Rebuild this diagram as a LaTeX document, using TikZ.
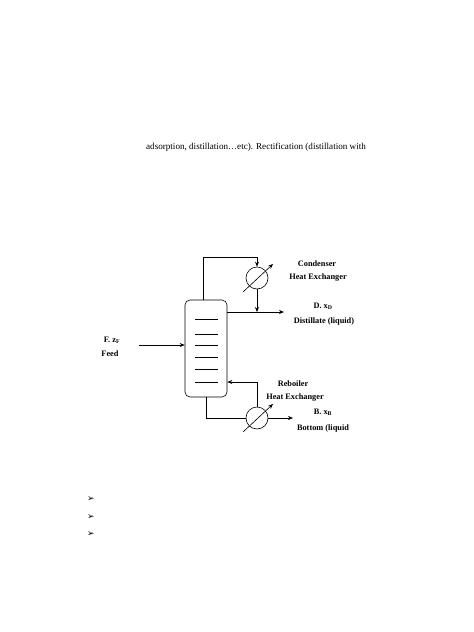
\documentclass[tikz,border=0pt]{standalone}
\usepackage{fontspec}
\setmainfont{Liberation Serif}
\newfontfamily\symf{DejaVu Sans}
\usetikzlibrary{arrows.meta,calc}
\begin{document}
\begin{tikzpicture}[x=1pt,y=-1pt,
  ln/.style={line width=0.6pt},
  ar/.style={ln,-{Stealth[length=5pt,width=4pt]}},
  lbl/.style={font=\bfseries\fontsize{8.3}{9}\selectfont,inner sep=0pt},
  hx/.style={circle,draw,line width=0.6pt,minimum size=22pt,inner sep=0pt}]
\useasboundingbox (0,0) rectangle (474,632);
\node[font=\fontsize{9.1}{10}\selectfont,anchor=west,inner sep=0pt] (txt) at (146,147) {adsorption, distillation…etc). Rectification (distillation with};
\node[draw,ln,rounded corners=5pt,minimum width=42pt,minimum height=97pt,inner sep=0pt] (col) at (206,348.5) {};
\foreach \y/\n in {319/a,334/b,345/c,357/d,369/e,382/f}
  \draw[ln] (195,\y) coordinate (t\n) -- (218,\y);
\node[hx] (cond) at (257,278) {};
\node[hx] (reb) at (257,418) {};
\coordinate (top) at (203,300);
\draw[ar] (top) |- (257,257) -- (cond.north);
\coordinate (dist) at (284,312);
\draw[ar] (col.east |- dist) -- (dist);
\draw[ar] (cond.south) -- (257,312);
\coordinate (feed) at (139,345);
\draw[ar] (feed) -- (col.west |- feed);
\coordinate (bot) at (206,397);
\draw[ln] (bot) |- (reb.west);
\coordinate (bout) at (293,418);
\draw[ar] (reb.east) -- (bout);
\draw[ar] (reb.north) |- (col.east |- 0,382);
\draw[ar] ($(cond)+(-14,14)$) -- ($(cond)+(16,-14)$);
\draw[ar] ($(reb)+(-14,14)$) -- ($(reb)+(16,-14)$);
\node[lbl] (l1) at (317,264) {Condenser};
\node[lbl] (l2) at (318,278) {Heat Exchanger};
\node[lbl] (l3) at (323,306) {D. x\textsubscript{D}};
\node[lbl] (l4) at (324,321) {Distillate (liquid)};
\node[lbl] (l5) at (112,340) {F. z\textsubscript{F}};
\node[lbl] (l6) at (110,354) {Feed};
\node[lbl] (l7) at (293,384) {Reboiler};
\node[lbl] (l8) at (295,398) {Heat Exchanger};
\node[lbl] (l9) at (323,412) {B. x\textsubscript{B}};
\node[lbl] (l10) at (323,428) {Bottom (liquid};
\foreach \y/\n in {499/a,517/b,534/c}
  \node[font=\symf\fontsize{9}{10}\selectfont,inner sep=0pt] (b\n) at (91,\y) {➢};
\end{tikzpicture}
\end{document}
